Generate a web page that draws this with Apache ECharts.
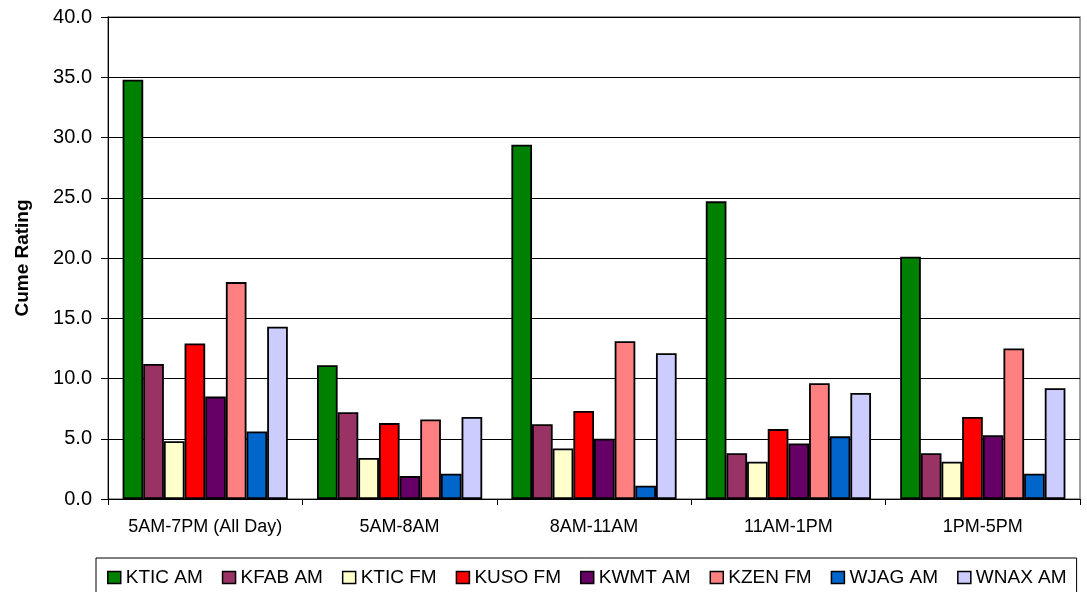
<!DOCTYPE html>
<html>
<head>
<meta charset="utf-8">
<script src="https://cdn.jsdelivr.net/npm/echarts@6/dist/echarts.min.js"></script>
<style>
html,body{margin:0;padding:0;background:#fff;}
#chart{width:1087px;height:592px;}
</style>
</head>
<body>
<div id="chart"></div>
<script>
var categories = ['5AM-7PM (All Day)', '5AM-8AM', '8AM-11AM', '11AM-1PM', '1PM-5PM'];
var seriesNames = ['KTIC AM', 'KFAB AM', 'KTIC FM', 'KUSO FM', 'KWMT AM', 'KZEN FM', 'WJAG AM', 'WNAX AM'];
var kticAM = [34.8, 11.1, 29.4, 24.7, 20.1];
var kfabAM = [11.2, 7.2, 6.2, 3.8, 3.8];
var kticFM = [4.8, 3.4, 4.2, 3.1, 3.1];
var kusoFM = [12.9, 6.3, 7.3, 5.8, 6.8];
var kwmtAM = [8.5, 1.9, 5.0, 4.6, 5.3];
var kzenFM = [18.0, 6.6, 13.1, 9.6, 12.5];
var wjagAM = [5.6, 2.1, 1.1, 5.2, 2.1];
var wnaxAM = [14.3, 6.8, 12.1, 8.8, 9.2];
var seriesValues = [kticAM, kfabAM, kticFM, kusoFM, kwmtAM, kzenFM, wjagAM, wnaxAM];
var colors = ['#008000', '#993366', '#FFFFCC', '#FF0000', '#660066', '#FF8080', '#0066CC', '#CCCCFF'];
var yTicks = {min: 0, max: 40, interval: 5};

var FONT = 'Liberation Sans, Arial, sans-serif';
var chart = echarts.init(document.getElementById('chart'));
var series = seriesNames.map(function (n, i) {
  return {
    name: n,
    type: 'bar',
    data: seriesValues[i],
    barGap: '0%',
    barCategoryGap: '15%',
    itemStyle: {color: colors[i], borderColor: '#000', borderWidth: 1.8},
    emphasis: {disabled: true}
  };
});
chart.setOption({
  animation: false,
  backgroundColor: '#fff',
  color: colors,
  grid: {left: 108, right: 7, top: 17, bottom: 93, show: true, borderColor: '#808080', borderWidth: 1.5},
  legend: {
    data: seriesNames,
    left: 96, top: 558,
    padding: [10, 10, 10, 11],
    itemWidth: 13, itemHeight: 12,
    itemGap: 19,
    borderColor: '#000', borderWidth: 1,
    icon: 'rect',
    itemStyle: {borderColor: '#000', borderWidth: 1.5},
    textStyle: {fontFamily: FONT, fontSize: 19, color: '#000'}
  },
  xAxis: {
    type: 'category',
    data: categories,
    axisLine: {lineStyle: {color: '#000', width: 1}},
    axisTick: {show: true, interval: 0, length: 6, lineStyle: {color: '#000'}},
    axisLabel: {interval: 0, fontFamily: FONT, fontSize: 18, color: '#000', margin: 19}
  },
  yAxis: {
    type: 'value',
    min: yTicks.min, max: yTicks.max, interval: yTicks.interval,
    name: 'Cume Rating',
    nameLocation: 'middle',
    nameGap: 76,
    nameTextStyle: {fontFamily: FONT, fontSize: 19, fontWeight: 'bold', color: '#000'},
    axisLine: {show: true, lineStyle: {color: '#000', width: 1}},
    axisTick: {show: true, length: 7, lineStyle: {color: '#000'}},
    splitLine: {lineStyle: {color: '#000', width: 1}},
    axisLabel: {fontFamily: FONT, fontSize: 20, color: '#000', margin: 16,
      formatter: function (v) { return v.toFixed(1); }}
  },
  series: series
});
</script>
</body>
</html>
